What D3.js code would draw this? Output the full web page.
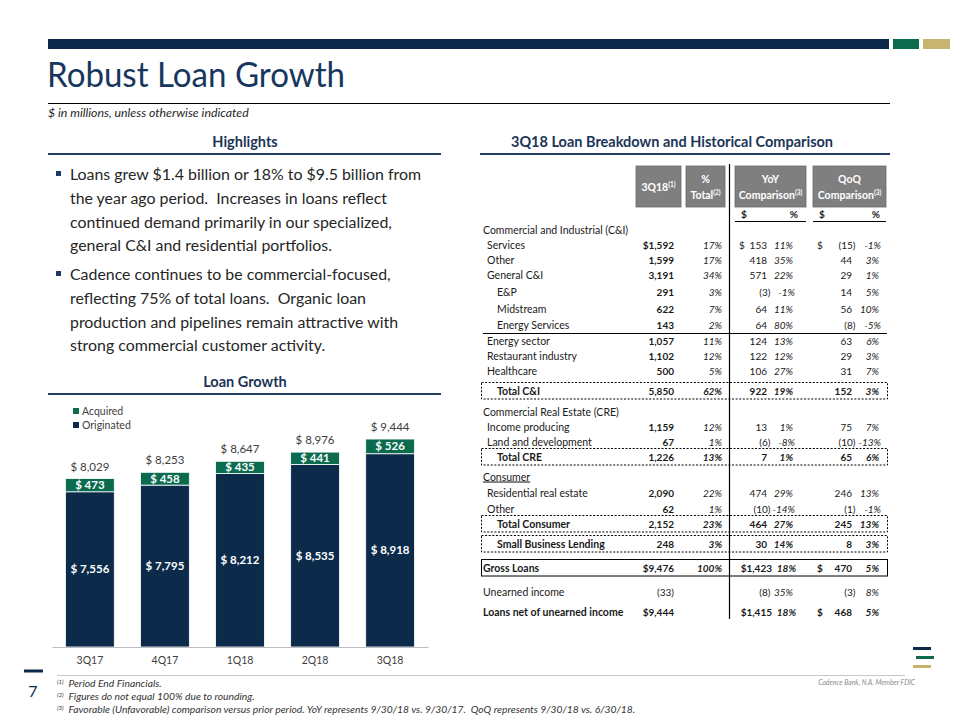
<!DOCTYPE html>
<html><head><meta charset="utf-8">
<script src="https://cdn.jsdelivr.net/npm/d3@7"></script>
<style>
body{margin:0;background:#fff;}
svg{display:block;font-family:Lato,"Open Sans",sans-serif;}
text{white-space:pre;}
</style>
</head><body>
<svg id="c" width="960" height="720"></svg>
<script>
// ---------------- DATA ----------------
const quarters   = ["3Q17","4Q17","1Q18","2Q18","3Q18"];
const originated = [7556, 7795, 8212, 8535, 8918];
const acquired   = [473, 458, 435, 441, 526];
const seriesNames = ["Acquired","Originated"];

const highlightBullets = [
  ["Loans grew $1.4 billion or 18% to $9.5 billion from",
   "the year ago period.  Increases in loans reflect",
   "continued demand primarily in our specialized,",
   "general C&I and residential portfolios."],
  ["Cadence continues to be commercial-focused,",
   "reflecting 75% of total loans.  Organic loan",
   "production and pipelines remain attractive with",
   "strong commercial customer activity."]
];

const rowLabels = ["Commercial and Industrial (C&I)","Services","Other","General C&I","E&P","Midstream",
  "Energy Services","Energy sector","Restaurant industry","Healthcare","Total C&I",
  "Commercial Real Estate (CRE)","Income producing","Land and development","Total CRE",
  "Consumer","Residential real estate","Other","Total Consumer","Small Business Lending",
  "Gross Loans","Unearned income","Loans net of unearned income"];
const rowKinds = ["head","item","item","item","sub","sub","sub","item","item","item","total",
  "head","item","item","total","headU","item","item","total","total","gross","plain","net"];
const q3Values  = ["","$1,592","1,599","3,191","291","622","143","1,057","1,102","500","5,850",
  "","1,159","67","1,226","","2,090","62","2,152","248","$9,476","(33)","$9,444"];
const pctTotal  = ["","17%","17%","34%","3%","7%","2%","11%","12%","5%","62%",
  "","12%","1%","13%","","22%","1%","23%","3%","100%","",""];
const yoyDollar = ["","153","418","571","(3)","64","64","124","122","106","922",
  "","13","(6)","7","","474","(10)","464","30","$1,423","(8)","$1,415"];
const yoyPct    = ["","11%","35%","22%","-1%","11%","80%","13%","12%","27%","19%",
  "","1%","-8%","1%","","29%","-14%","27%","14%","18%","35%","18%"];
const qoqDollar = ["","(15)","44","29","14","56","(8)","63","29","31","152",
  "","75","(10)","65","","246","(1)","245","8","470","(3)","468"];
const qoqPct    = ["","-1%","3%","1%","5%","10%","-5%","6%","3%","7%","3%",
  "","7%","-13%","6%","","13%","-1%","13%","3%","5%","8%","5%"];
const yoySignRows = ["Services"];
const qoqSignRows = ["Services","Gross Loans","Loans net of unearned income"];

const footnotes = ["Period End Financials.",
  "Figures do not equal 100% due to rounding.",
  "Favorable (Unfavorable) comparison versus prior period. YoY represents 9/30/18 vs. 9/30/17.  QoQ represents 9/30/18 vs. 6/30/18."];

// ---------------- STYLE ----------------
const NAVY = "#0c2b4b", GREEN = "#0b6b4f", GOLD = "#c9b46f", TXT = "#262626";
const svg = d3.select("#c");

// header band
svg.append("rect").attr("x",48).attr("y",39).attr("width",841).attr("height",10).attr("fill",NAVY);
svg.append("rect").attr("x",893).attr("y",39).attr("width",26).attr("height",10).attr("fill",GREEN);
svg.append("rect").attr("x",923).attr("y",39).attr("width",27).attr("height",10).attr("fill",GOLD);

svg.append("text").attr("x",47).attr("y",87).attr("font-size",35).attr("fill","#17375e")
  .attr("textLength",298).attr("lengthAdjust","spacingAndGlyphs").text("Robust Loan Growth");
svg.append("line").attr("x1",48).attr("x2",890).attr("y1",103.5).attr("y2",103.5).attr("stroke","#000").attr("stroke-width",1);
svg.append("text").attr("x",48).attr("y",116.5).attr("font-size",12.3).attr("font-style","italic").attr("fill",TXT)
  .text("$ in millions, unless otherwise indicated");

function sectionHead(txt, cx, y, x1, x2, ly){
  svg.append("text").attr("x",cx).attr("y",y).attr("text-anchor","middle").attr("font-size",14.5)
    .attr("font-weight","bold").attr("fill","#1a3556").text(txt);
  svg.append("line").attr("x1",x1).attr("x2",x2).attr("y1",ly).attr("y2",ly).attr("stroke","#1f3d5e").attr("stroke-width",2);
}
sectionHead("Highlights",245,147,48,441,154);
sectionHead("Loan Growth",245,387,48,441,394);
sectionHead("3Q18 Loan Breakdown and Historical Comparison",672,147,480,890,154);

// highlights bullets
const bulletTop = [180, 280];
highlightBullets.forEach((lines,bi)=>{
  svg.append("rect").attr("x",56).attr("y",bulletTop[bi]-9).attr("width",5).attr("height",5).attr("fill","#1f3864");
  lines.forEach((ln,li)=>{
    svg.append("text").attr("x",70).attr("y",bulletTop[bi]+li*23.8).attr("font-size",15.9).attr("fill",TXT).text(ln);
  });
});

// ---------------- BAR CHART ----------------
const x = d3.scaleBand().domain(quarters).range([52,428]).paddingInner(0.35).paddingOuter(0.18);
const y = d3.scaleLinear().domain([2000,10000]).range([647,423.5]);
const table = quarters.map((q,i)=>({q, Originated:originated[i], Acquired:acquired[i]}));
const stack = d3.stack().keys(["Originated","Acquired"])(table);
const colors = {Originated:NAVY, Acquired:GREEN};
const g = svg.append("g");
stack.forEach(s=>{
  g.selectAll(null).data(s).enter().append("rect")
    .attr("x",d=>x(d.data.q)).attr("width",x.bandwidth())
    .attr("y",d=>y(d[1])).attr("height",d=>y(Math.max(d[0],2000))-y(d[1]))
    .attr("fill",colors[s.key]).attr("stroke","#fff").attr("stroke-width",0.8);
});
const fmt = v=>"$ "+d3.format(",")(v);
stack.forEach(s=>{
  g.selectAll(null).data(s).enter().append("text")
    .attr("x",d=>x(d.data.q)+x.bandwidth()/2)
    .attr("y",d=>(y(Math.max(d[0],2000))+y(d[1]))/2+4)
    .attr("text-anchor","middle").attr("font-size",11.5).attr("font-weight","bold").attr("fill","#fff")
    .text(d=>fmt(d.data[s.key]));
});
g.selectAll(null).data(table).enter().append("text")
  .attr("x",d=>x(d.q)+x.bandwidth()/2).attr("y",d=>y(d.Originated+d.Acquired)-8)
  .attr("text-anchor","middle").attr("font-size",11.5).attr("fill","#404040")
  .text(d=>fmt(d.Originated+d.Acquired));
const xAxis = d3.axisBottom(x).tickSize(0).tickPadding(10);
const ax = svg.append("g").attr("transform","translate(0,647)").call(xAxis);
ax.select(".domain").attr("stroke","#bfbfbf");
ax.selectAll("text").attr("font-size",10.5).attr("fill","#404040").attr("font-family","Lato");
seriesNames.forEach((n,i)=>{
  svg.append("rect").attr("x",73).attr("y",408+i*14).attr("width",6).attr("height",6).attr("fill",colors[n]);
  svg.append("text").attr("x",82).attr("y",415+i*14).attr("font-size",10.5).attr("fill","#404040").text(n);
});

// ---------------- TABLE ----------------
const rowY = [230,245,260,275,292,309,325,341,356,371,391,412,427,442,457,477,493,509,524,544,568,592,612];
const labelX = {head:483,headU:483,item:487,sub:497,total:497,gross:483,plain:483,net:483};
const T = svg.append("g").attr("font-size",10.5).attr("fill","#1a1a1a");

const boxes = [
  {x:636,w:45,lines:[["3Q18","(1)"]]},
  {x:686,w:39,lines:[["%",""],["Total","(2)"]]},
  {x:735,w:71,lines:[["YoY",""],["Comparison","(3)"]]},
  {x:813,w:73,lines:[["QoQ",""],["Comparison","(3)"]]}
];
boxes.forEach(b=>{
  T.append("rect").attr("x",b.x).attr("y",166).attr("width",b.w).attr("height",41)
    .attr("fill","#7f7f7f").attr("stroke","#6a6a6a").attr("stroke-width",0.8);
  b.lines.forEach((ln,i)=>{
    const yy = b.lines.length===1 ? 191 : 183+i*16;
    const t = T.append("text").attr("x",b.x+b.w/2).attr("y",yy).attr("text-anchor","middle")
      .attr("fill","#fff").attr("font-weight","bold").attr("font-size",10.5);
    t.append("tspan").text(ln[0]);
    if(ln[1]) t.append("tspan").attr("font-size",6.5).attr("dy",-4).text(ln[1]);
  });
});
[["$",741,"start"],["%",798,"end"],["$",819,"start"],["%",880,"end"]].forEach(s=>{
  T.append("text").attr("x",s[1]).attr("y",218).attr("text-anchor",s[2]).attr("font-weight","bold").attr("font-size",10).text(s[0]);
});
T.append("line").attr("x1",735).attr("x2",806).attr("y1",221.5).attr("y2",221.5).attr("stroke","#000");
T.append("line").attr("x1",813).attr("x2",886).attr("y1",221.5).attr("y2",221.5).attr("stroke","#000");

T.append("line").attr("x1",729.5).attr("x2",729.5).attr("y1",164).attr("y2",619).attr("stroke","#000").attr("stroke-width",1.2);
T.append("line").attr("x1",483).attr("x2",887).attr("y1",333.5).attr("y2",333.5).attr("stroke","#000");
rowLabels.forEach((lab,i)=>{
  const k = rowKinds[i];
  if(k==="total"||k==="gross"){
    T.append("rect").attr("x",481.5).attr("y",rowY[i]-8.5).attr("width",406).attr("height",16.5)
      .attr("fill","none").attr("stroke","#000").attr("stroke-width",1)
      .attr("stroke-dasharray",k==="gross"?null:"2,1.6");
  }
});

function numText(val, xr, yy, opts){
  if(!val) return;
  const neg = val.endsWith(")") && opts.hang;
  T.append("text").attr("x",neg?xr+3.5:xr).attr("y",yy).attr("text-anchor","end").attr("font-size",10)
    .attr("font-weight",opts.bold?"bold":"normal").attr("font-style",opts.italic?"italic":"normal").text(val);
}
rowLabels.forEach((lab,i)=>{
  const k = rowKinds[i], yy = rowY[i]+3.5;
  const boldRow = (k==="total"||k==="gross"||k==="net");
  const big = (k==="gross"||k==="net");
  const lt = T.append("text").attr("x",labelX[k]).attr("y",yy).attr("font-weight",boldRow?"bold":"normal").text(lab);
  if(k==="headU") lt.attr("text-decoration","underline");
  numText(q3Values[i],674,yy,{bold:k!=="plain"});
  numText(pctTotal[i],722,yy,{italic:true,bold:boldRow});
  if(yoySignRows.includes(lab)) T.append("text").attr("x",739).attr("y",yy).attr("font-size",10).text("$");
  numText(yoyDollar[i],big?772:767,yy,{bold:boldRow,hang:true});
  numText(yoyPct[i],(big?796:793)+(yoyPct[i].startsWith("-")?2:0),yy,{italic:true,bold:boldRow});
  if(qoqSignRows.includes(lab)) T.append("text").attr("x",817).attr("y",yy).attr("font-size",10).attr("font-weight",boldRow?"bold":"normal").text("$");
  numText(qoqDollar[i],852,yy,{bold:boldRow,hang:true});
  numText(qoqPct[i],qoqPct[i].startsWith("-")?881:879,yy,{italic:true,bold:boldRow});
});

// ---------------- FOOTER ----------------
svg.append("line").attr("x1",57).attr("x2",905).attr("y1",675.5).attr("y2",675.5).attr("stroke","#c8c8c8");
svg.append("line").attr("x1",24).attr("x2",43).attr("y1",671).attr("y2",671).attr("stroke",NAVY).attr("stroke-width",3);
svg.append("text").attr("x",33).attr("y",697).attr("text-anchor","middle").attr("font-size",16).attr("fill",NAVY).text("7");
footnotes.forEach((f,i)=>{
  const t = svg.append("text").attr("x",57).attr("y",687+i*12.8).attr("font-size",10.3).attr("font-style","italic").attr("fill","#333");
  t.append("tspan").attr("font-size",6).attr("dy",-3).text("("+(i+1)+")");
  t.append("tspan").attr("dy",3).text("  "+f);
});
svg.append("text").attr("x",915).attr("y",685).attr("text-anchor","end").attr("font-size",6.8).attr("font-style","italic")
  .attr("fill","#8c8c8c").text("Cadence Bank, N.A. Member FDIC");
[[913,647,NAVY],[916,656,GREEN],[913,665,GOLD]].forEach(b=>{
  svg.append("rect").attr("x",b[0]).attr("y",b[1]).attr("width",18).attr("height",3).attr("fill",b[2]);
});
</script>
</body></html>
